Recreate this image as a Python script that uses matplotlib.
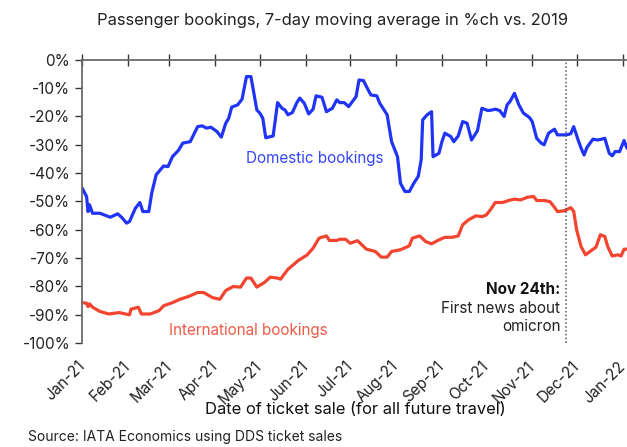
import numpy as np
import pandas as pd
import matplotlib
matplotlib.use('Agg')
import matplotlib.pyplot as plt
import matplotlib.dates as mdates

plt.rcParams['font.family'] = ['Inter', 'DejaVu Sans']

# days since 1 Jan 2021 (% change vs 2019)
dom_day = [0, 3, 4, 5, 7, 12, 19, 24, 27, 30, 32, 36, 39, 41, 45, 47, 50, 55, 58, 61,
           65, 68, 73, 78, 81, 84, 87, 91, 94, 97, 99, 101, 105, 108, 111, 114, 118, 120,
           122, 124, 129, 132, 135, 137, 139, 142, 145, 147, 150, 153, 156, 158, 162, 165,
           169, 172, 174, 177, 180, 185, 187, 190, 192, 195, 199, 201, 206, 209, 213, 215,
           218, 221, 224, 227, 229, 230, 233, 236, 237, 241, 243, 245, 249, 251, 254, 257,
           260, 263, 267, 270, 274, 277, 279, 282, 285, 287, 289, 292, 295, 298, 302, 304,
           307, 310, 312, 315, 319, 321, 327, 330, 332, 335, 337, 339, 341, 345, 348, 351,
           353, 356, 358, 360, 363, 366, 368]
dom_val = [-45.3, -48.3, -53.6, -51.2, -54.2, -54.2, -55.6, -54.4, -55.8, -57.7, -57.1,
           -52.4, -50.4, -53.6, -53.6, -47.1, -40.6, -37.5, -37.7, -34.2, -32.0, -29.4,
           -28.9, -23.6, -23.3, -24.1, -23.8, -25.3, -27.3, -22.4, -20.6, -16.7, -15.9,
           -13.9, -5.9, -5.9, -17.7, -18.8, -20.6, -27.5, -26.9, -15.1, -17.1, -17.7,
           -19.4, -18.6, -15.1, -13.5, -15.3, -19.1, -17.4, -12.7, -13.2, -18.3, -17.1,
           -14.1, -15.1, -15.1, -16.5, -13.0, -7.1, -7.3, -9.4, -12.4, -12.7, -15.3,
           -19.4, -28.9, -34.2, -43.6, -46.5, -46.5, -43.6, -41.2, -35.3, -21.2, -19.4,
           -18.3, -34.2, -33.0, -28.9, -25.9, -27.1, -28.9, -26.9, -21.8, -22.4, -28.3,
           -25.0, -17.1, -17.9, -17.7, -17.4, -17.9, -20.0, -15.9, -14.7, -11.8, -15.9,
           -18.8, -20.3, -21.8, -27.7, -29.4, -30.0, -25.9, -24.5, -26.5, -26.5, -26.1,
           -23.6, -28.3, -31.2, -33.6, -30.9, -28.0, -28.3, -28.0, -27.7, -33.0, -33.9,
           -32.4, -32.4, -28.5, -31.2]

int_day = [0, 3, 4, 5, 7, 12, 18, 25, 32, 33, 38, 40, 46, 52, 55, 61, 66, 72, 78, 82,
           88, 93, 97, 102, 107, 111, 114, 118, 123, 127, 132, 134, 139, 146, 152, 156,
           160, 165, 167, 172, 174, 178, 181, 186, 192, 198, 202, 206, 209, 215, 221, 223,
           228, 232, 236, 241, 245, 250, 254, 257, 261, 266, 270, 273, 276, 279, 284, 288,
           292, 296, 301, 305, 307, 312, 316, 319, 321, 326, 330, 332, 334, 337, 340, 343,
           347, 350, 353, 355, 358, 362, 364, 366, 368]
int_val = [-85.8, -86.0, -87.2, -86.2, -87.4, -88.9, -89.8, -89.3, -90.1, -88.1, -87.4,
           -89.8, -89.8, -88.6, -86.9, -85.8, -84.6, -83.6, -82.2, -82.2, -84.0, -84.6,
           -81.5, -80.1, -80.3, -77.1, -77.1, -80.3, -78.7, -76.8, -77.1, -77.5, -74.0,
           -70.9, -68.9, -66.5, -63.0, -62.2, -63.8, -63.8, -63.4, -63.4, -64.8, -63.9,
           -66.9, -67.7, -69.7, -69.7, -67.7, -67.1, -65.7, -63.0, -62.2, -64.2, -65.0,
           -63.6, -62.7, -62.7, -62.2, -58.3, -56.5, -55.1, -55.4, -54.8, -52.8, -50.4,
           -50.4, -49.7, -49.2, -49.5, -48.5, -48.3, -49.7, -49.7, -50.1, -52.1, -53.6,
           -53.3, -52.2, -53.5, -60.1, -66.0, -68.9, -67.7, -66.2, -61.8, -62.4, -66.0,
           -69.3, -68.9, -69.3, -66.9, -66.9]

start = pd.Timestamp('2021-01-01')
dom_dates = start + pd.to_timedelta(dom_day, unit='D')
int_dates = start + pd.to_timedelta(int_day, unit='D')
omicron = pd.Timestamp('2021-11-24')

blue = '#1f34f7'
red = '#f2442f'
grey = '#6b6b6b'

fig = plt.figure(figsize=(6.27, 4.47), dpi=100)
ax = fig.add_axes([0.131, 0.233, 0.869, 0.633])

ax.plot(dom_dates, dom_val, color=blue, lw=2.3, solid_capstyle='round')
ax.plot(int_dates, int_val, color=red, lw=2.3, solid_capstyle='round')
ax.axvline(omicron, color='#555555', ls=(0, (1, 1.5)), lw=1.1)

ax.set_xlim(start, pd.Timestamp('2022-01-04'))
ax.set_ylim(-100, 0)
ax.set_yticks(np.arange(-100, 1, 10))
ax.set_yticklabels([f'{v}%' for v in range(-100, 1, 10)])

ax.xaxis.set_major_locator(mdates.MonthLocator())
ax.xaxis.set_major_formatter(mdates.DateFormatter('%b-%y'))
ax.tick_params(axis='x', top=True, bottom=False, labelbottom=True, labeltop=False,
               direction='inout', length=8, width=1, color='#333333',
               labelsize=11, labelcolor='#222222', pad=11)
for lbl in ax.get_xticklabels():
    lbl.set_rotation(45)
    lbl.set_ha('right')
    lbl.set_va('center')
    lbl.set_rotation_mode('anchor')
ax.tick_params(axis='y', direction='out', length=5, width=1, color='#333333',
               labelsize=11, labelcolor='#222222')

for s in ['bottom', 'right']:
    ax.spines[s].set_visible(False)
for s in ['top', 'left']:
    ax.spines[s].set_color(grey)
    ax.spines[s].set_linewidth(1.3)

ax.text(pd.Timestamp('2021-06-07'), -35, 'Domestic bookings', color='#3447f5',
        fontsize=11, ha='center', va='center')
ax.text(pd.Timestamp('2021-04-23'), -95.5, 'International bookings', color='#f25a47',
        fontsize=11, ha='center', va='center')
ax.text(pd.Timestamp('2021-11-20'), -81.3, 'Nov 24th:', fontsize=11,
        fontweight='bold', ha='right', va='center', color='#111111')
ax.text(pd.Timestamp('2021-11-20'), -87.7, 'First news about', fontsize=11,
        ha='right', va='center', color='#222222')
ax.text(pd.Timestamp('2021-11-20'), -94.3, 'omicron', fontsize=11,
        ha='right', va='center', color='#222222')

fig.text(0.531, 0.955, 'Passenger bookings, 7-day moving average in %ch vs. 2019',
         ha='center', va='center', fontsize=11.9, color='#222222')
fig.text(0.567, 0.083, 'Date of ticket sale (for all future travel)', ha='center',
         va='center', fontsize=11.9, color='#111111')
fig.text(0.045, 0.022, 'Source: IATA Economics using DDS ticket sales', ha='left',
         va='center', fontsize=10, color='#222222')

fig.savefig('out.png', dpi=100)
